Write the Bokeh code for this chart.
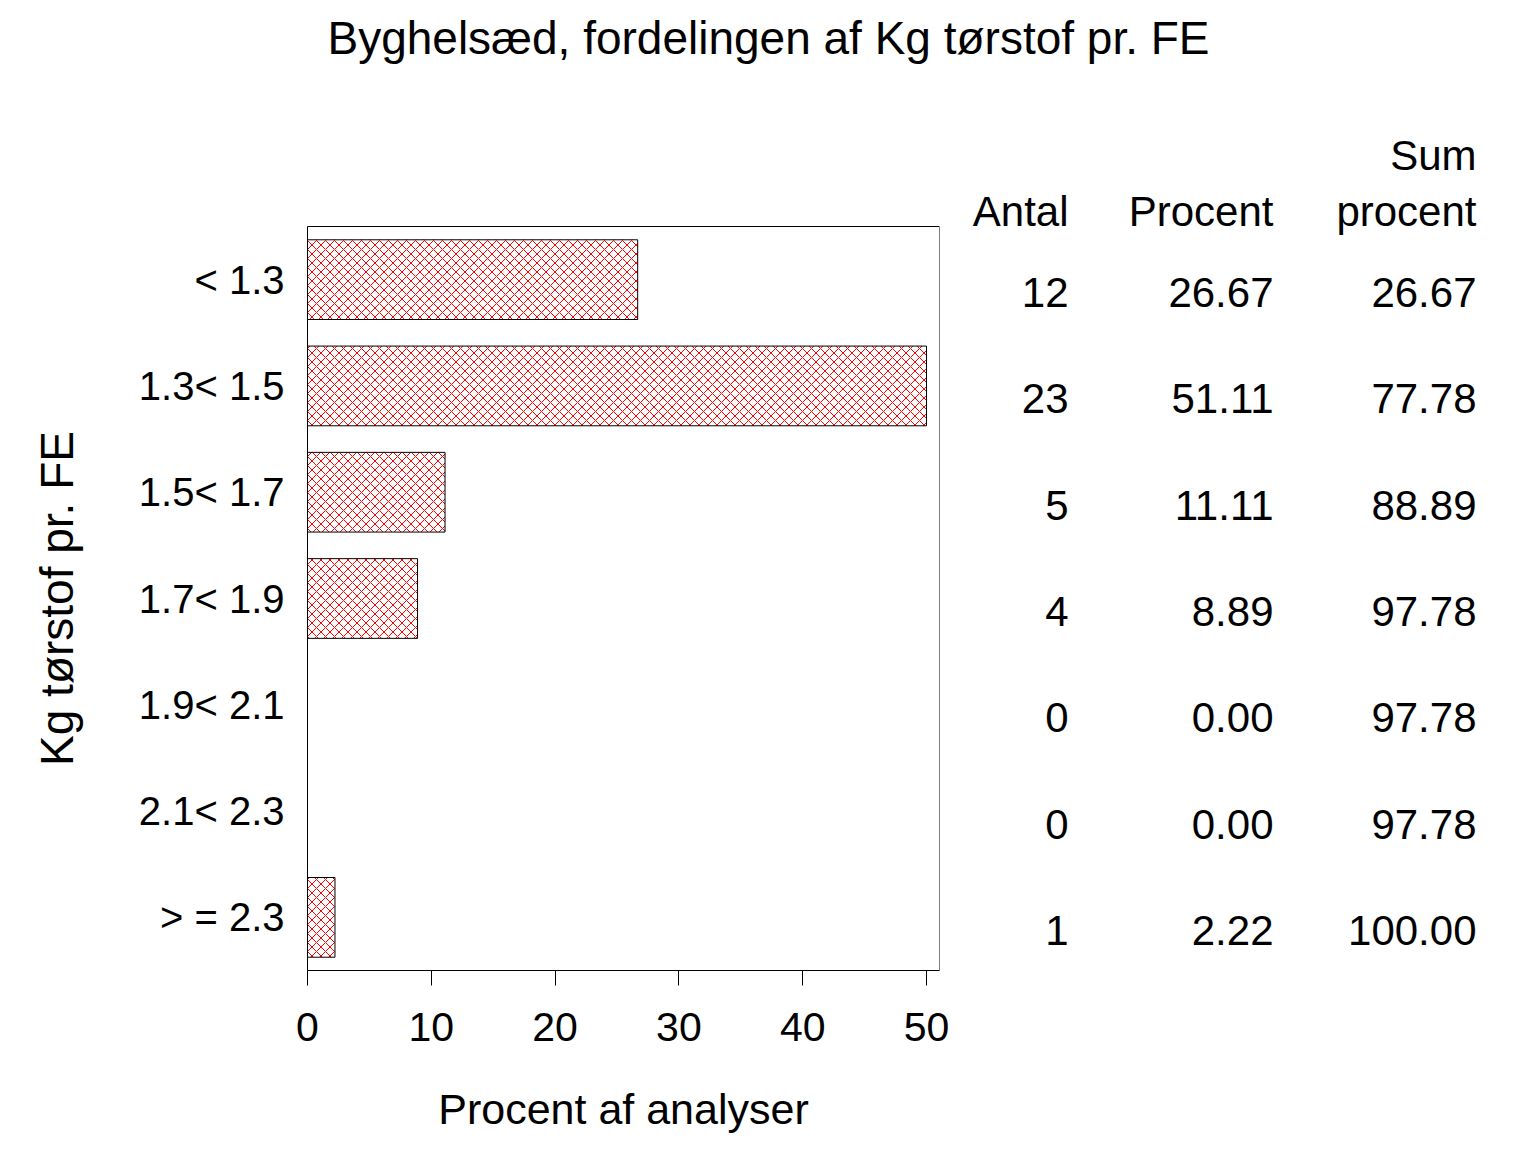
import numpy as np
from bokeh.plotting import figure
from bokeh.models import Range1d, FixedTicker, ColumnDataSource
from bokeh.layouts import column, row
from bokeh.core.properties import value
from bokeh.embed import file_html
from bokeh.resources import INLINE

# ---- data ----
title_text = "Byghelsæd, fordelingen af Kg tørstof pr. FE"
categories = ["< 1.3", "1.3< 1.5", "1.5< 1.7", "1.7< 1.9", "1.9< 2.1", "2.1< 2.3", "> = 2.3"]
antal = [12, 23, 5, 4, 0, 0, 1]
procent = [26.67, 51.11, 11.11, 8.89, 0.00, 0.00, 2.22]
sum_procent = [26.67, 77.78, 88.89, 97.78, 97.78, 97.78, 100.00]
x_ticks = [0, 10, 20, 30, 40, 50]
x_label = "Procent af analyser"
y_label = "Kg tørstof pr. FE"
headers = ["Antal", "Procent", "procent"]
header_top = ["", "", "Sum"]

FONT = "Liberation Sans"

# ---- layout constants (pixels, page coordinates) ----
W, H = 1530, 1152
TITLE_H = 96
LABEL_W = 100
BOX_LEFT, BOX_RIGHT, BOX_TOP, BOX_BOTTOM = 307, 939, 226, 970
TABLE_LEFT = 955
X_AXIS_END = 51.05                      # axis extends a little beyond the last tick
n = len(categories)
ROW_PX = (BOX_BOTTOM - BOX_TOP) / n
ROW_H = H - TITLE_H
MB_BOTTOM = H - BOX_BOTTOM


def ypx(py):
    return (py - BOX_TOP) / ROW_PX - 0.5


idx = list(range(n))
x_max = max(x_ticks)
bar_right = list(np.minimum(procent, x_max))
src = ColumnDataSource(dict(y=idx, right=bar_right, pct=procent))

# shared vertical mapping for the row of figures (frame spans TITLE_H .. BOX_BOTTOM)
y_rng = Range1d(ypx(BOX_BOTTOM), ypx(TITLE_H))


def blank(width, x_range, y_range, height):
    f = figure(width=width, height=height, x_range=x_range, y_range=y_range,
               x_axis_type=None, y_axis_type=None, toolbar_location=None, output_backend="svg",
               min_border=0, outline_line_color=None)
    return f


# ---- title ----
pt = blank(W, Range1d(0, W), Range1d(TITLE_H, 0), TITLE_H)
pt.text(x=[768], y=[37], text=[title_text], text_align="center", text_baseline="middle",
        text_font=value(FONT), text_font_size="46px", text_color="black")

# ---- y axis title ----
pl = blank(LABEL_W, Range1d(0, LABEL_W), y_rng, ROW_H)
pl.min_border_bottom = MB_BOTTOM
pl.text(x=[56], y=[ypx((BOX_TOP + BOX_BOTTOM) / 2)], text=[y_label], angle=np.pi / 2,
        text_align="center", text_baseline="middle", text_font=value(FONT),
        text_font_size="46px", text_color="black")

# ---- bar chart ----
p = figure(width=TABLE_LEFT - LABEL_W, height=ROW_H, x_range=Range1d(0, X_AXIS_END), y_range=y_rng,
           toolbar_location=None, output_backend="svg",
           min_border_left=BOX_LEFT - LABEL_W, min_border_right=TABLE_LEFT - BOX_RIGHT,
           min_border_top=0, min_border_bottom=MB_BOTTOM, outline_line_color=None)
p.xgrid.grid_line_color = None
p.ygrid.grid_line_color = None

p.quad(left=[0], right=[X_AXIS_END], top=[-0.5], bottom=[n - 0.5], fill_color=None,
       line_color="black", line_width=1)
p.hbar(y="y", left=0, right="right", height=0.75, source=src, fill_color="white",
       line_color="black", line_width=1, hatch_pattern="x", hatch_color="red",
       hatch_scale=9, hatch_weight=1)

p.xaxis.ticker = FixedTicker(ticks=x_ticks)
p.xaxis.minor_tick_line_color = None
p.xaxis.major_tick_out = 15
p.xaxis.major_tick_in = 0
p.xaxis.major_label_standoff = 27
p.xaxis.major_label_text_font = FONT
p.xaxis.major_label_text_font_size = "41px"
p.xaxis.major_label_text_color = "black"
p.xaxis.axis_label = x_label
p.xaxis.axis_label_text_font = FONT
p.xaxis.axis_label_text_font_size = "43px"
p.xaxis.axis_label_text_font_style = "normal"
p.xaxis.axis_label_text_color = "black"
p.xaxis.axis_label_standoff = 41
p.xaxis.axis_line_color = "black"
p.xaxis.major_tick_line_color = "black"

p.yaxis.bounds = (-0.5, n - 0.5)
p.yaxis.ticker = FixedTicker(ticks=idx)
p.yaxis.major_label_overrides = {i: c for i, c in zip(idx, categories)}
p.yaxis.major_tick_line_color = None
p.yaxis.major_tick_out = 0
p.yaxis.major_tick_in = 0
p.yaxis.minor_tick_line_color = None
p.yaxis.major_label_standoff = 23
p.yaxis.major_label_text_font = FONT
p.yaxis.major_label_text_font_size = "40px"
p.yaxis.major_label_text_color = "black"
p.yaxis.axis_line_color = "black"

# ---- table ----
ptab = blank(W - TABLE_LEFT, Range1d(TABLE_LEFT, W), y_rng, ROW_H)
ptab.min_border_bottom = MB_BOTTOM
col_px = [1068, 1273, 1476]
cols = [[str(a) for a in antal], [f"{v:.2f}" for v in procent], [f"{v:.2f}" for v in sum_procent]]
for cx, vals, h, ht in zip(col_px, cols, headers, header_top):
    ptab.text(x=[cx] * n, y=idx, text=vals, text_align="right", text_baseline="middle",
              y_offset=13, text_font=value(FONT), text_font_size="42px", text_color="black")
    ptab.text(x=[cx], y=[ypx(211)], text=[h], text_align="right", text_baseline="middle",
              text_font=value(FONT), text_font_size="42px", text_color="black")
    if ht:
        ptab.text(x=[cx], y=[ypx(155)], text=[ht], text_align="right", text_baseline="middle",
                  text_font=value(FONT), text_font_size="42px", text_color="black")

layout = column(pt, row(pl, p, ptab, spacing=0), spacing=0)
open("out.html", "w").write(file_html(layout, INLINE))
